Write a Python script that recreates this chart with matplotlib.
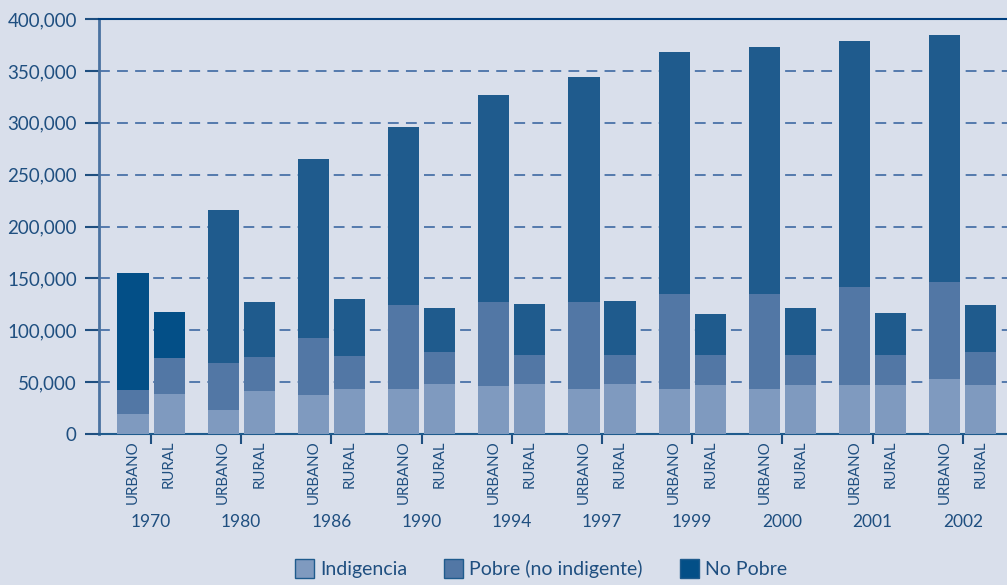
import numpy as np
import matplotlib.pyplot as plt
from matplotlib.patches import Patch

plt.rcParams['font.family'] = ['Lato', 'DejaVu Sans']

# Datos (habitantes)
years = ['1970', '1980', '1986', '1990', '1994', '1997', '1999', '2000', '2001', '2002']

# acumulados: tope de indigencia, tope de pobre, total
urb_indig = [19000, 23000, 37600, 43000, 46000, 43400, 43400, 43400, 47000, 53000]
urb_pobre_top = [42400, 68000, 92500, 124000, 127000, 127000, 135000, 135000, 141700, 146500]
urb_total = [155000, 216000, 265000, 296000, 327000, 344000, 368000, 373000, 379000, 384600]

rur_indig = [38500, 41400, 43400, 48000, 48000, 48000, 47000, 47000, 47000, 47000]
rur_pobre_top = [73000, 74000, 75000, 79000, 76000, 76000, 76000, 76000, 76000, 79000]
rur_total = [117600, 127000, 130000, 121000, 125000, 128000, 115700, 121500, 116600, 124000]

bg = '#d9dfeb'
c_indig = '#7f9abf'
c_pobre = '#5277a5'
c_nopobre = '#1f5b8d'
c_nopobre70 = '#034f87'
txt = '#1f4f80'

fig = plt.figure(figsize=(10.07, 5.85), dpi=100, facecolor=bg)
ax = fig.add_axes([0.0983, 0.2581, 0.9017, 0.7094], facecolor=bg)

x = np.arange(len(years))
w = 0.345
off = 0.2

for pos, indig, ptop, tot in [(x - off, urb_indig, urb_pobre_top, urb_total),
                              (x + off, rur_indig, rur_pobre_top, rur_total)]:
    indig = np.array(indig)
    ptop = np.array(ptop)
    tot = np.array(tot)
    top_colors = [c_nopobre70] + [c_nopobre] * (len(years) - 1)
    ax.bar(pos, indig, w, color=c_indig, zorder=3)
    ax.bar(pos, ptop - indig, w, bottom=indig, color=c_pobre, zorder=3)
    ax.bar(pos, tot - ptop, w, bottom=ptop, color=top_colors, zorder=3)

ax.set_ylim(0, 400000)
ax.set_xlim(-0.577, 9.49)
ax.set_yticks(np.arange(0, 400001, 50000))
ax.set_yticklabels([f'{v:,}' for v in range(0, 400001, 50000)], fontsize=13.5, color=txt)
for v in range(50000, 400000, 50000):
    ax.axhline(v, color='#4a72a8', lw=1.3, ls=(0, (6, 4)), zorder=1)

ax.set_xticks(x)
ax.set_xticklabels([])
ax.tick_params(axis='x', length=7, width=1.5, color=txt, direction='out')
ax.tick_params(axis='y', length=10, width=1.5, color=txt, pad=6)

ax.spines['right'].set_visible(False)
ax.spines['top'].set_color('#003f7f')
ax.spines['top'].set_linewidth(1.5)
ax.spines['left'].set_color('#4a72a0')
ax.spines['left'].set_linewidth(2)
ax.spines['bottom'].set_color('#1f5b8d')
ax.spines['bottom'].set_linewidth(1.5)

trans = ax.get_xaxis_transform()
for i, yr in enumerate(years):
    ax.text(i - off, -0.015, 'URBANO', rotation=90, ha='center', va='top',
            fontsize=10.8, color=txt, transform=trans)
    ax.text(i + off, -0.015, 'RURAL', rotation=90, ha='center', va='top',
            fontsize=10.8, color=txt, transform=trans)
    ax.text(i, -0.193, yr, ha='center', va='top', fontsize=12.5, color=txt, transform=trans)

handles = [Patch(facecolor=c_indig, edgecolor='#1f5b8d', label='Indigencia'),
           Patch(facecolor=c_pobre, edgecolor='#1f5b8d', label='Pobre (no indigente)'),
           Patch(facecolor=c_nopobre70, edgecolor='#1f5b8d', label='No Pobre')]
leg = fig.legend(handles=handles, loc='upper center', bbox_to_anchor=(0.537, 0.064),
                 ncol=3, frameon=False, fontsize=14, handlelength=1.0, handleheight=1.1,
                 handletextpad=0.3, columnspacing=1.9, borderaxespad=0.2)
for t in leg.get_texts():
    t.set_color(txt)

fig.savefig('out.png', dpi=100, facecolor=bg)
